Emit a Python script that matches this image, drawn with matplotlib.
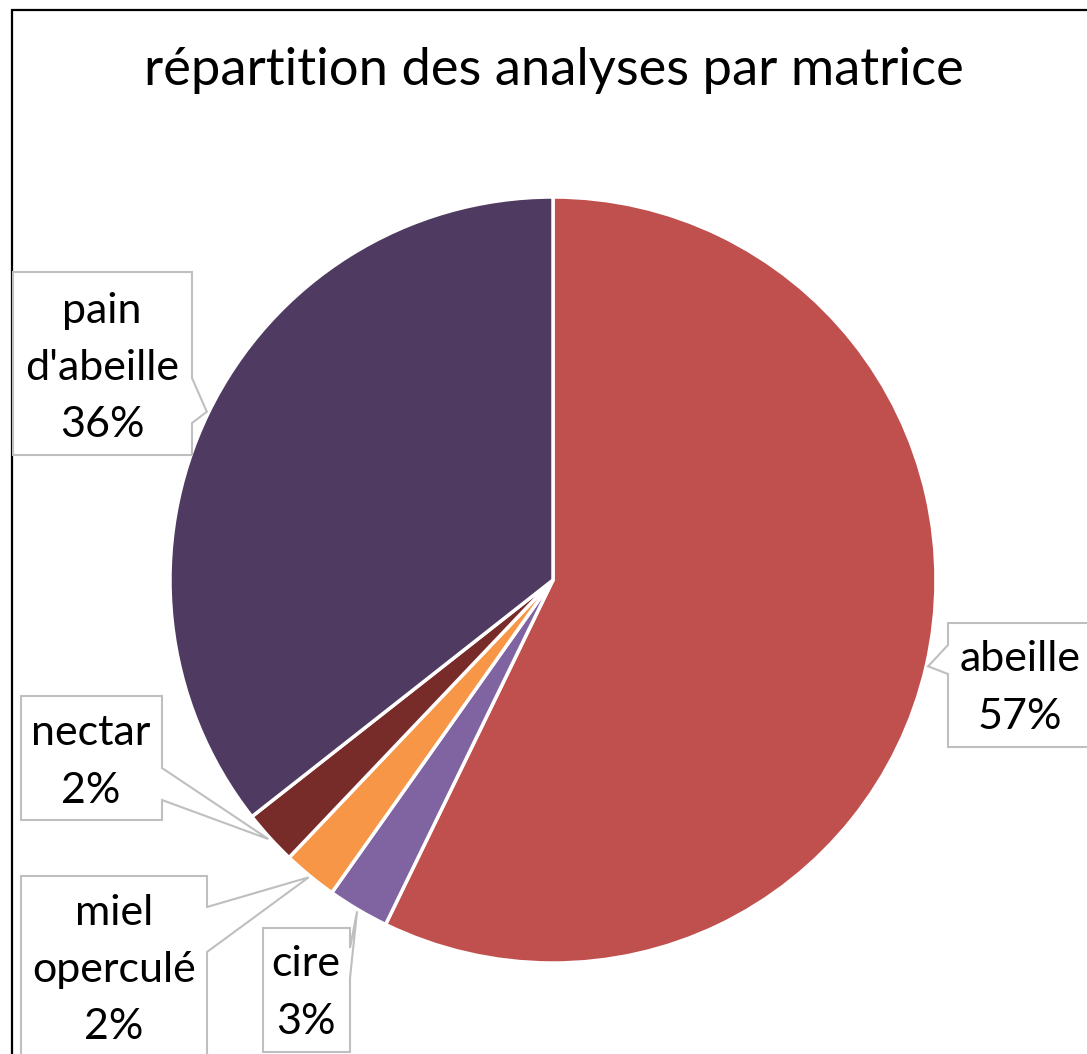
import numpy as np
import matplotlib
matplotlib.use("Agg")
import matplotlib.pyplot as plt
from matplotlib.patches import Polygon, Rectangle

plt.rcParams['font.family'] = ['Lato', 'DejaVu Sans']

# data
categories = ["abeille", "cire", "miel\noperculé", "nectar", "pain\nd'abeille"]
shares = [57.2, 2.6, 2.3, 2.3, 35.6]
colors = ["#C0504D", "#8064A2", "#F79646", "#772C2A", "#4F3B62"]
title = "répartition des analyses par matrice"

W, H = 1087, 1054
fig = plt.figure(figsize=(W / 100, H / 100), dpi=100)
ax = fig.add_axes([0, 0, 1, 1])


def Y(y):
    # pixel row (from top) -> data y
    return H - y


cx, cy, r = 553, 580, 383
wedges, _ = ax.pie(shares, colors=colors, startangle=90, counterclock=False,
                   center=(cx, Y(cy)), radius=r, frame=True,
                   wedgeprops=dict(edgecolor="white", linewidth=2.5))
ax.set_xlim(0, W)
ax.set_ylim(0, H)
ax.set_aspect("equal")
ax.axis("off")

# outer frame of the chart area
ax.add_patch(Rectangle((12, -20), W + 20, Y(10) + 20, fill=False,
                       edgecolor="black", linewidth=1.6, clip_on=False))

ax.text(554, Y(70), title, ha="center", va="center", fontsize=37.8)

# label boxes: (x0, y0, x1, y1), edge for pointer, pointer base (a, b), text centre
boxes = {
    "abeille": ((948, 623, 1092, 747), "left", (645, 674), (1020, 688)),
    "cire": ((263, 928, 350, 1052), "right", (948, 978), (306, 993)),
    "miel\noperculé": ((21, 876, 207, 1080), "right", (907, 952), (114, 970)),
    "nectar": ((21, 696, 162, 820), "right", (768, 800), (91, 762)),
    "pain\nd'abeille": ((13, 272, 192, 455), "right", (378, 423), (102, 368)),
}

for w, cat, val in zip(wedges, categories, shares):
    (x0, y0, x1, y1), side, (a, b), (tx, ty) = boxes[cat]
    mid = np.deg2rad((w.theta1 + w.theta2) / 2)
    tip = (cx + r * 1.005 * np.cos(mid), Y(cy) + r * 1.005 * np.sin(mid))
    if side == "right":
        pts = [(x0, Y(y0)), (x1, Y(y0)), (x1, Y(a)), tip, (x1, Y(b)),
               (x1, Y(y1)), (x0, Y(y1))]
    else:
        pts = [(x0, Y(y0)), (x1, Y(y0)), (x1, Y(y1)), (x0, Y(y1)),
               (x0, Y(b)), tip, (x0, Y(a))]
    ax.add_patch(Polygon(pts, closed=True, facecolor="white",
                         edgecolor="#BFBFBF", linewidth=1.5, zorder=5))
    ax.text(tx, Y(ty), f"{cat}\n{round(val):.0f}%", ha="center", va="center",
            fontsize=31, linespacing=1.62, zorder=6)

fig.savefig("out.png", dpi=100)
